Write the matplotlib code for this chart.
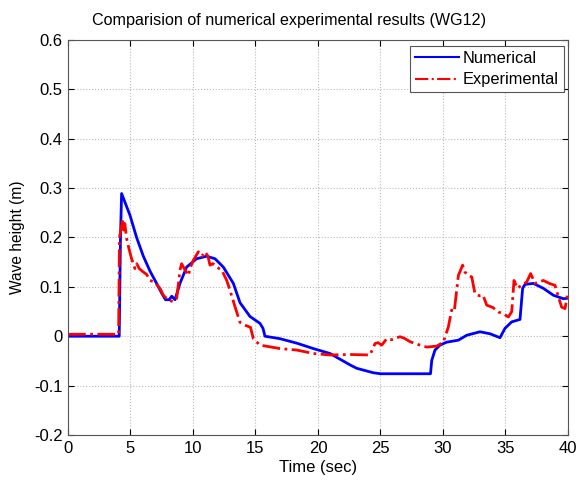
import matplotlib
matplotlib.use("Agg")
import matplotlib.pyplot as plt

plt.rcParams['font.family'] = ['Liberation Sans', 'DejaVu Sans']

num_t = [0, 4.1, 4.2, 4.29, 4.96, 5.49, 6.03, 6.56, 7.09, 7.5, 7.8, 8.1, 8.3, 8.56, 8.96, 9.49,
         10.29, 11.09, 11.76, 12.43, 13.23, 13.76, 14.56, 15.36, 15.6, 15.76, 16.96, 18.3,
         19.63, 20.96, 22.56, 23.1, 24.43, 25.0, 29.0, 29.1, 29.36, 29.76, 30.3, 31.23, 31.9,
         32.96, 33.76, 34.56, 34.96, 35.49, 36.16, 36.37, 36.56, 37.23, 38.03, 38.83, 39.63, 40]
num_v = [0, 0, 0.2, 0.289, 0.245, 0.2, 0.162, 0.132, 0.107, 0.087, 0.074, 0.074, 0.081, 0.074,
         0.107, 0.14, 0.157, 0.162, 0.157, 0.14, 0.107, 0.068, 0.04, 0.026, 0.016, 0.0, -0.005,
         -0.014, -0.025, -0.035, -0.058, -0.065, -0.074, -0.076, -0.076, -0.049, -0.028,
         -0.018, -0.012, -0.008, 0.002, 0.009, 0.005, -0.003, 0.016, 0.029, 0.034, 0.097,
         0.105, 0.107, 0.097, 0.083, 0.076, 0.077]

exp_t = [0, 4.05, 4.12, 4.3, 4.37, 4.45, 4.55, 4.69, 4.9, 5.09, 5.36, 5.5, 5.7, 6.03, 6.3,
         6.56, 6.9, 7.36, 7.63, 8.03, 8.43, 8.7, 8.96, 9.09, 9.3, 9.63, 9.8, 10.03, 10.43,
         10.7, 10.96, 11.2, 11.36, 11.6, 11.9, 12.3, 12.7, 12.96, 13.36, 13.76, 14.2, 14.6,
         14.83, 15.36, 16.96, 18.3, 19.63, 20.96, 22.56, 24.16, 24.56, 24.8, 25.1, 25.5,
         25.9, 26.56, 26.9, 27.36, 27.9, 28.7, 29.5, 30.03, 30.43, 30.69, 30.9, 31.23, 31.57,
         31.75, 32.03, 32.3, 32.56, 32.9, 33.2, 33.5, 34.0, 34.43, 34.8, 35.23, 35.5, 35.68,
         35.95, 36.1, 36.3, 36.7, 37.01, 37.36, 37.7, 38.03, 38.5, 38.96, 39.23, 39.49, 39.76, 40]
exp_v = [0.004, 0.004, 0.2, 0.225, 0.238, 0.215, 0.228, 0.198, 0.175, 0.157, 0.137, 0.147,
         0.137, 0.13, 0.125, 0.113, 0.11, 0.097, 0.083, 0.073, 0.07, 0.077, 0.134, 0.147,
         0.137, 0.123, 0.14, 0.154, 0.171, 0.162, 0.171, 0.162, 0.144, 0.147, 0.14, 0.134,
         0.113, 0.093, 0.06, 0.028, 0.022, 0.018, -0.005, -0.018, -0.025, -0.028, -0.035,
         -0.038, -0.037, -0.038, -0.015, -0.013, -0.018, -0.005, -0.007, -0.001, -0.004,
         -0.011, -0.016, -0.022, -0.02, -0.012, 0.019, 0.053, 0.05, 0.123, 0.144, 0.13,
         0.123, 0.12, 0.086, 0.082, 0.083, 0.063, 0.058, 0.049, 0.046, 0.039, 0.05, 0.113,
         0.097, 0.1, 0.103, 0.11, 0.127, 0.107, 0.11, 0.113, 0.107, 0.103, 0.08, 0.059,
         0.056, 0.09]

fig = plt.figure(figsize=(5.79, 4.80), dpi=100)
ax = fig.add_axes([0.1174, 0.0938, 0.8636, 0.8229])
ax.plot(num_t, num_v, color='#0000ff', lw=2, label='Numerical')
ax.plot(exp_t, exp_v, color='#ff0000', lw=2, ls='-.', label='Experimental')
ax.set_xlim(0, 40)
ax.set_ylim(-0.2, 0.6)
ax.set_xticks(range(0, 41, 5))
ax.set_yticks([-0.2, -0.1, 0, 0.1, 0.2, 0.3, 0.4, 0.5, 0.6])
ax.set_yticklabels(['-0.2', '-0.1', '0', '0.1', '0.2', '0.3', '0.4', '0.5', '0.6'])
ax.grid(True, ls=':', color='#bbbbbb', lw=0.8)
ax.tick_params(direction='in', labelsize=12, top=True, right=True, length=4, pad=4)
for s in ax.spines.values():
    s.set_color('#555555')
ax.set_xlabel('Time (sec)', fontsize=12, labelpad=3)
ax.set_ylabel('Wave height (m)', fontsize=11.2, labelpad=6)
fig.text(0.5, 0.958, 'Comparision of numerical experimental results (WG12)',
         fontsize=11.6, ha='center', va='center')
leg = ax.legend(loc='upper right', bbox_to_anchor=(0.992, 0.985), fontsize=11.8, fancybox=False,
                edgecolor='#555555', framealpha=1, borderpad=0.3, handlelength=2.7,
                handletextpad=0.25, labelspacing=0.4, borderaxespad=0)
leg.get_frame().set_linewidth(0.8)
for line in leg.get_lines():
    line.set_linewidth(1.5)
fig.savefig('out.png', dpi=100)
